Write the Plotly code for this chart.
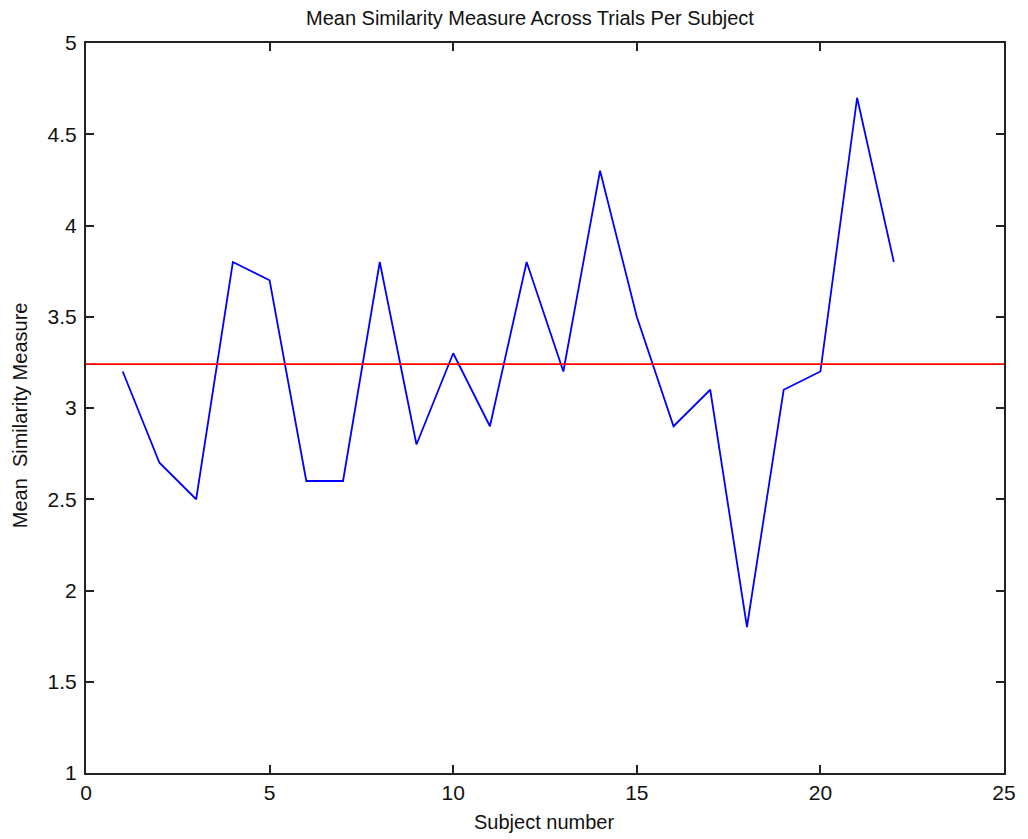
import plotly.graph_objects as go

# Mean similarity per subject
subjects = list(range(1, 23))
mean_similarity = [3.2, 2.7, 2.5, 3.8, 3.7, 2.6, 2.6, 3.8, 2.8, 3.3, 2.9,
                   3.8, 3.2, 4.3, 3.5, 2.9, 3.1, 1.8, 3.1, 3.2, 4.7, 3.8]
x_ticks = [0, 5, 10, 15, 20, 25]
y_ticks = [1, 1.5, 2, 2.5, 3, 3.5, 4, 4.5, 5]
y_tick_text = ["1", "1.5", "2", "2.5", "3", "3.5", "4", "4.5", "5"]

overall_mean = sum(mean_similarity) / len(mean_similarity)

FONT = "Liberation Sans"

fig = go.Figure()
fig.add_trace(go.Scatter(
    x=subjects, y=mean_similarity, mode="lines",
    line=dict(color="#0000ff", width=1.8), showlegend=False,
))
fig.add_trace(go.Scatter(
    x=[0, 25], y=[overall_mean, overall_mean], mode="lines",
    line=dict(color="#ff0000", width=1.8), showlegend=False,
))

axis_common = dict(
    showgrid=False, zeroline=False, showline=True, linecolor="#222222",
    linewidth=2, mirror="ticks", ticks="inside", ticklen=8, tickwidth=1.5,
    tickcolor="#222222", tickfont=dict(family=FONT, size=21, color="#111111"),
)

fig.update_xaxes(range=[0, 25], tickvals=x_ticks, **axis_common)
fig.update_yaxes(range=[1, 5], tickvals=y_ticks, ticktext=y_tick_text,
                 ticklabelstandoff=3, **axis_common)

fig.update_layout(
    width=1028, height=839,
    margin=dict(l=86, r=21, t=43, b=66),
    paper_bgcolor="white", plot_bgcolor="white",
    font=dict(family=FONT, color="#111111"),
)

# place labels in pixel terms via paper coordinates
plot_w = 1028 - 86 - 21
plot_h = 839 - 43 - 66
def px_x(px):
    return (px - 86) / plot_w
def px_y(py):
    return (839 - 66 - py) / plot_h

fig.layout.annotations = [
    dict(text="Mean Similarity Measure Across Trials Per Subject",
         x=px_x(531), y=px_y(18), xref="paper", yref="paper",
         showarrow=False, font=dict(size=20), xanchor="center", yanchor="middle"),
    dict(text="Subject number", x=px_x(545), y=px_y(822),
         xref="paper", yref="paper", showarrow=False, font=dict(size=20),
         xanchor="center", yanchor="middle"),
    dict(text="Mean  Similarity Measure", x=px_x(20), y=px_y(415),
         xref="paper", yref="paper", showarrow=False, font=dict(size=20),
         textangle=-90, xanchor="center", yanchor="middle"),
]

fig.write_html("out.html")
